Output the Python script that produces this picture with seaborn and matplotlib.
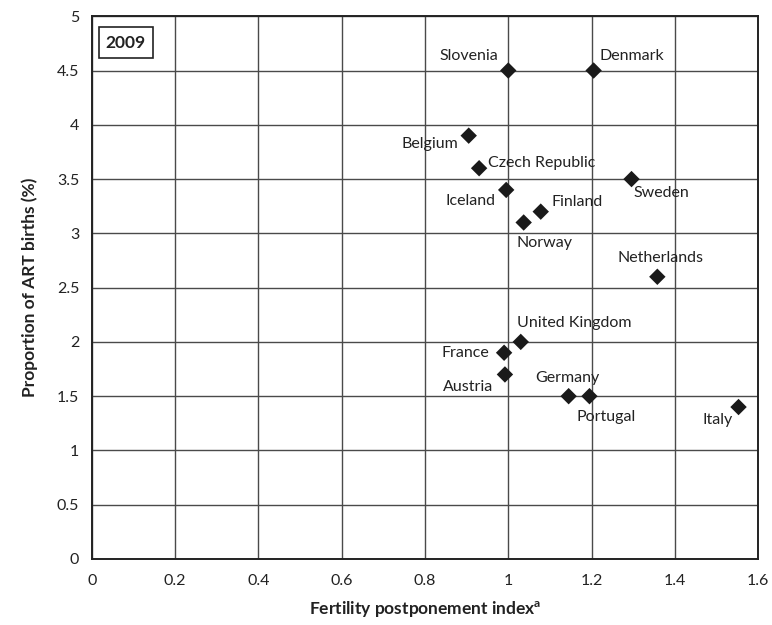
import matplotlib
matplotlib.use("Agg")
import matplotlib.pyplot as plt
import seaborn as sns
import pandas as pd

countries = ["Slovenia", "Denmark", "Belgium", "Czech Republic", "Iceland", "Finland",
             "Norway", "Sweden", "Netherlands", "United Kingdom", "France", "Austria",
             "Germany", "Portugal", "Italy"]
fpi = [1.00, 1.205, 0.905, 0.93, 0.995, 1.078, 1.037, 1.296, 1.358, 1.03, 0.99, 0.992,
       1.145, 1.195, 1.553]
art = [4.5, 4.5, 3.9, 3.6, 3.4, 3.2, 3.1, 3.5, 2.6, 2.0, 1.9, 1.7, 1.5, 1.5, 1.4]

# label offsets in pixels (dx, dy) and horizontal alignment
offsets = {
    "Slovenia": (-10, 15, "right"),
    "Denmark": (6, 15, "left"),
    "Belgium": (-10, -8, "right"),
    "Czech Republic": (9, 5, "left"),
    "Iceland": (-11, -11, "right"),
    "Finland": (11, 10, "left"),
    "Norway": (-7, -21, "left"),
    "Sweden": (2, -14, "left"),
    "Netherlands": (3, 19, "center"),
    "United Kingdom": (-4, 19, "left"),
    "France": (-15, 0, "right"),
    "Austria": (-12, -13, "right"),
    "Germany": (-33, 18, "left"),
    "Portugal": (-13, -21, "left"),
    "Italy": (-6, -13, "right"),
}

df = pd.DataFrame({"country": countries, "fpi": fpi, "art": art})

sns.set_theme(style="white")
plt.rcParams["font.family"] = ["Lato", "DejaVu Sans"]
plt.rcParams["mathtext.fontset"] = "custom"
plt.rcParams["mathtext.bf"] = "Lato:bold"
plt.rcParams["mathtext.rm"] = "Lato"

fig = plt.figure(figsize=(7.72, 6.25), dpi=100)
ax = fig.add_axes([0.119, 0.1056, 0.863, 0.8684])

sns.scatterplot(data=df, x="fpi", y="art", marker="D", color="#1a1a1a",
                s=70, edgecolor="none", ax=ax, zorder=3)

ax.set_xlim(0, 1.6)
ax.set_ylim(0, 5)
ax.set_xticks([0, 0.2, 0.4, 0.6, 0.8, 1.0, 1.2, 1.4, 1.6])
ax.set_xticklabels(["0", "0.2", "0.4", "0.6", "0.8", "1", "1.2", "1.4", "1.6"])
ax.set_yticks([0, 0.5, 1, 1.5, 2, 2.5, 3, 3.5, 4, 4.5, 5])
ax.set_yticklabels(["0", "0.5", "1", "1.5", "2", "2.5", "3", "3.5", "4", "4.5", "5"])
ax.grid(True, color="#4a4a4a", linewidth=1.0)
ax.set_axisbelow(True)
for sp in ax.spines.values():
    sp.set_color("#222222")
    sp.set_linewidth(1.4)
    sp.set_visible(True)
ax.tick_params(axis="both", direction="out", length=4, width=1, color="#222222",
               labelsize=11.5, labelcolor="#222222", pad=5)
ax.tick_params(axis="x", pad=7)

ax.set_xlabel(r"Fertility postponement index$^{\mathbf{a}}$", fontsize=12.5,
              fontweight="bold", color="#222222", labelpad=8)
ax.set_ylabel("Proportion of ART births (%)", fontsize=12.5, fontweight="bold",
              color="#222222", labelpad=14)

for c, x, y in zip(countries, fpi, art):
    dx, dy, ha = offsets[c]
    ax.annotate(c, (x, y), xytext=(dx * 0.72, dy * 0.72), textcoords="offset points",
                ha=ha, va="center", fontsize=11.5, color="#222222")

ax.text(0.021, 0.966, "2009", transform=ax.transAxes, ha="left", va="top",
        fontsize=12.5, fontweight="bold", color="#222222",
        bbox=dict(boxstyle="square,pad=0.42", facecolor="white", edgecolor="#222222",
                  linewidth=1.2))

fig.savefig("out.png", dpi=100)
